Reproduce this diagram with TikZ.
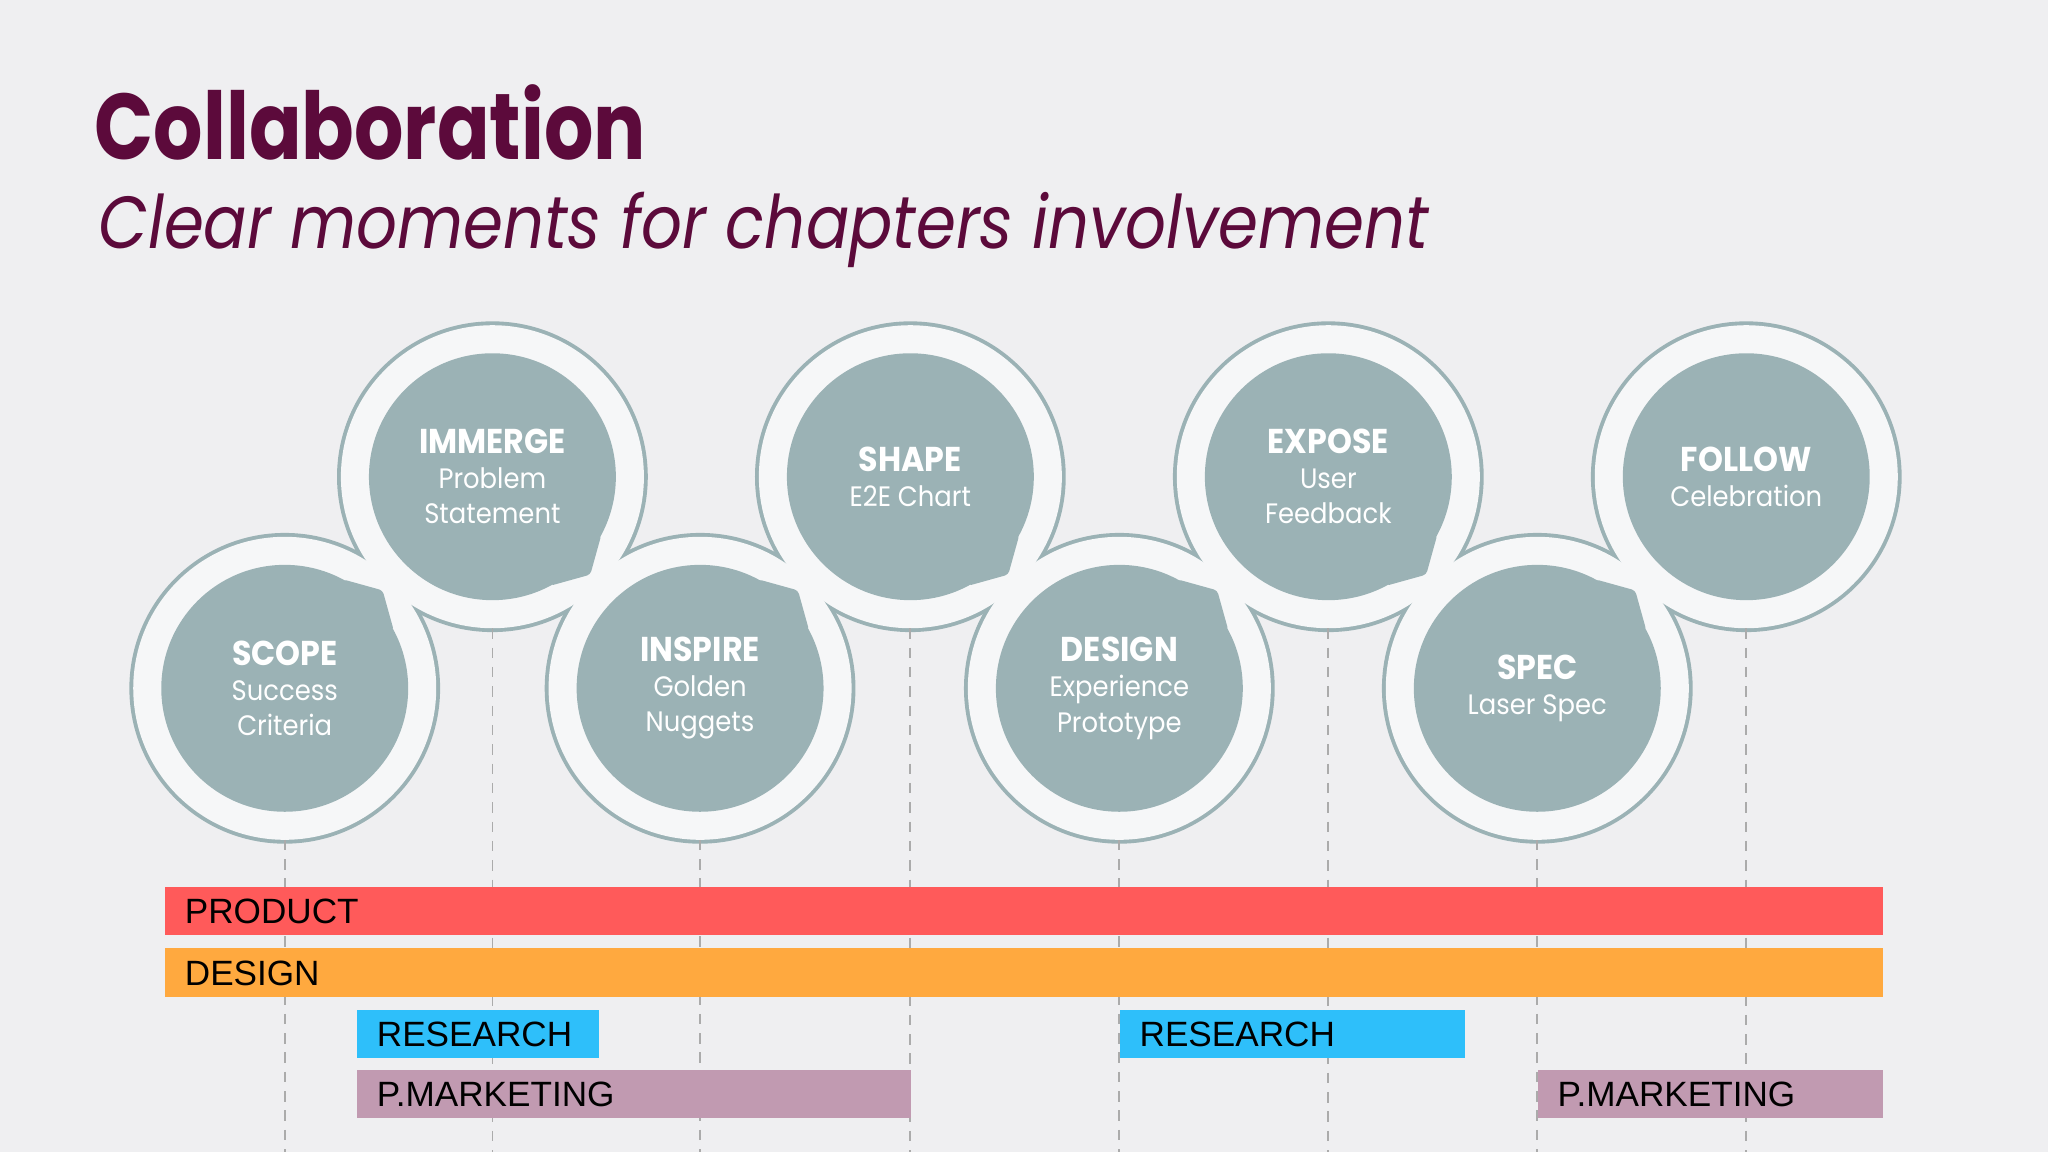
\documentclass[tikz,border=0pt]{standalone}
\usepackage{fontspec}
\setmainfont{Poppins}
\newfontfamily\headfont{Poppins}[FakeStretch=0.83]
\newfontfamily\subheadfont{Poppins}[FakeStretch=0.87]
\newfontfamily\stepfont{Poppins}[FakeStretch=0.92]
\newfontfamily\barfont{Liberation Sans}

\definecolor{bgc}{HTML}{EFEFF1}
\definecolor{titlec}{HTML}{5C0A3B}
\definecolor{discc}{HTML}{9BB2B5}
\definecolor{rimc}{HTML}{F6F7F8}
\definecolor{guidec}{HTML}{ABABAB}
\definecolor{productc}{HTML}{FF5A5A}
\definecolor{designc}{HTML}{FFA93F}
\definecolor{researchc}{HTML}{2EBFFA}
\definecolor{pmktc}{HTML}{C19AB1}

\newcommand{\steptitle}[1]{{\fontsize{9.8}{10}\selectfont\bfseries #1}}
\newcommand{\steplist}{scope/218/355, immerge/377/517, inspire/536/355, shape/697/517,
  design/857/355, expose/1017/517, spec/1177/355, follow/1337/517}

\tikzset{
  rimline/.style={draw=discc, line width=2.2pt},
  rim/.style={circle, fill=rimc, minimum size=3.030cm, inner sep=0pt, outer sep=0pt},
  disc/.style={circle, fill=discc, minimum size=2.469cm, inner sep=0pt, outer sep=0pt,
    text=white, align=center, font=\stepfont\fontsize{8}{10}\selectfont},
  guide/.style={draw=guidec, dash pattern=on 3pt off 2.5pt, line width=0.5pt},
  bar/.style={anchor=west, minimum height=0.483cm, inner xsep=0.196cm, inner ysep=0pt,
    text height=7.2pt, text depth=0pt, align=left, text=black,
    font=\barfont\fontsize{10}{12}\selectfont},
}

\begin{document}
\begin{tikzpicture}[x=0.013061cm, y=0.013061cm]
\fill[bgc] (0,0) rectangle (1568,882);
\useasboundingbox (0,0) rectangle (1568,882);

% heading
\node[anchor=base west, inner sep=0pt, text=titlec,
  font=\headfont\fontsize{26.6}{30}\selectfont\bfseries] (title) at (72,760) {Collaboration};
\node[anchor=base west, inner sep=0pt, text=titlec,
  font=\subheadfont\fontsize{21}{25}\selectfont\itshape] (subtitle) at (75,692)
  {Clear moments for chapters involvement};

\coordinate (base) at (0,0);

% rims: outline first, white fill over it
\foreach \n/\x/\y in \steplist
  \draw[rimline] (\x,\y) circle (116);
\foreach \n/\x/\y in \steplist {
  \node[rim] (rim-\n) at (\x,\y) {};
  \draw[guide] (rim-\n) -- (rim-\n |- base);
}

% steps
\node[disc] (scope) at (rim-scope) {\steptitle{SCOPE}\\Success\\Criteria};
\node[disc] (immerge) at (rim-immerge) {\steptitle{IMMERGE}\\Problem\\Statement};
\node[disc] (inspire) at (rim-inspire) {\steptitle{INSPIRE}\\Golden\\Nuggets};
\node[disc] (shape) at (rim-shape) {\steptitle{SHAPE}\\E2E Chart};
\node[disc] (design) at (rim-design) {\steptitle{DESIGN}\\Experience\\Prototype};
\node[disc] (expose) at (rim-expose) {\steptitle{EXPOSE}\\User\\Feedback};
\node[disc] (spec) at (rim-spec) {\steptitle{SPEC}\\Laser Spec};
\node[disc] (follow) at (rim-follow) {\steptitle{FOLLOW}\\Celebration};

% tails towards the next step
\foreach \n/\a/\b/\c in {scope/28/45/62, immerge/-62/-45/-28, inspire/28/45/62,
  shape/-62/-45/-28, design/28/45/62, expose/-62/-45/-28, spec/28/45/62}
  \fill[discc, rounded corners=1pt] (\n.\a) -- ([shift={(\b:106)}]\n.center) -- (\n.\c) -- cycle;

% chapters
\node[bar, text width=16.783cm, fill=productc] (product) at (126,184.5) {PRODUCT};
\node[bar, text width=16.783cm, fill=designc] (designbar) at (126,137.5) {DESIGN};
\node[bar, text width=2.024cm, fill=researchc] (research1) at (273,90.5) {RESEARCH};
\node[bar, text width=3.056cm, fill=researchc] (research2) at (857,90.5) {RESEARCH};
\node[bar, text width=5.146cm, fill=pmktc] (pmkt1) at (273,44.5) {P.MARKETING};
\node[bar, text width=3.056cm, fill=pmktc] (pmkt2) at (1177,44.5) {P.MARKETING};

\end{tikzpicture}
\end{document}
